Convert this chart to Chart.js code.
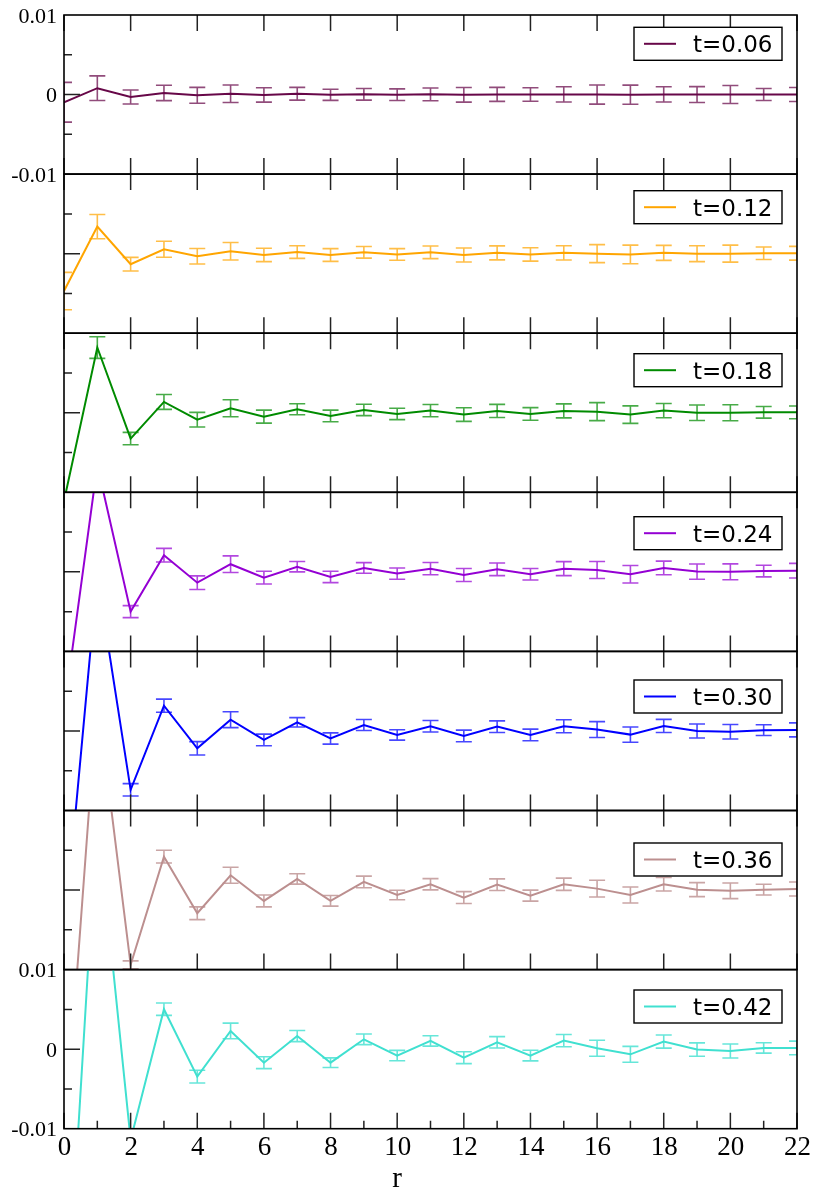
<!DOCTYPE html>
<html><head><meta charset="utf-8">
<script src="https://cdn.jsdelivr.net/npm/chart.js@4.4.0/dist/chart.umd.min.js"></script>
<style>
html,body{margin:0;padding:0;background:#fff;}
#wrap{position:relative;width:814px;height:1191px;overflow:hidden;}
#wrap canvas{position:absolute;left:0;top:0;}
</style></head><body><div id="wrap"></div>
<script>
// ---------- data ----------
const rValues = [0,1,2,3,4,5,6,7,8,9,10,11,12,13,14,15,16,17,18,19,20,21,22];
const xTickValues = [0,2,4,6,8,10,12,14,16,18,20,22];
const xTickLabels = ['0','2','4','6','8','10','12','14','16','18','20','22'];
const yTickValues = [0.01, 0, -0.01];
const yTickLabels = ['0.01','0','-0.01'];
const xTitle = 'r';
const tLabels = ['t=0.06','t=0.12','t=0.18','t=0.24','t=0.30','t=0.36','t=0.42'];

const y006 = [-0.00097,0.0008,-0.0003,0.0002,-0.0001,0.0001,-0.00005,0.0001,-0.00003,0.00003,-0.00002,0.00003,-0.00003,0.00002,0,0.00002,0,-0.00002,0.00002,0,0,0.00001,0.00001];
const e006 = [0.0025,0.00155,0.00088,0.00096,0.001,0.0011,0.0009,0.0008,0.0007,0.00073,0.00073,0.0008,0.00092,0.00088,0.00085,0.00096,0.0012,0.0012,0.00096,0.001,0.00113,0.00075,0.00088];

const y012 = [-0.0047,0.0034,-0.00133,0.00055,-0.00033,0.0003,-0.00016,0.0002,-0.00017,0.00017,-0.0001,0.00017,-0.00017,0.0001,-0.0001,0.0001,0,-0.0001,0.0001,0,0,0.00005,0.00005];
const e012 = [0.00235,0.00153,0.00086,0.001,0.00098,0.0011,0.00084,0.0008,0.0008,0.00073,0.00073,0.0008,0.00088,0.00088,0.00084,0.0009,0.00113,0.00117,0.00094,0.001,0.00107,0.00078,0.00086];

const y018 = [-0.0111,0.0082,-0.00325,0.00136,-0.00087,0.00056,-0.00049,0.00044,-0.0004,0.00035,-0.00015,0.00027,-0.00023,0.00023,-0.00015,0.00023,0.00014,-0.00023,0.00027,0,0,0.00005,0.00005];
const e018 = [0.0008,0.00136,0.00078,0.00094,0.00092,0.00107,0.00082,0.00069,0.00073,0.00071,0.00071,0.00077,0.00086,0.00082,0.0008,0.00088,0.00113,0.0011,0.0009,0.00098,0.001,0.00073,0.0008];

const y024 = [-0.0175,0.0134,-0.005,0.00209,-0.00136,0.00096,-0.00073,0.00065,-0.00064,0.00049,-0.00022,0.0004,-0.00039,0.00032,-0.0003,0.0004,0.00024,-0.0003,0.00049,0.00003,0,0.0001,0.00015];
const e024 = [0.001,0.0015,0.00075,0.00086,0.00086,0.00105,0.0008,0.00065,0.00071,0.00067,0.00071,0.00077,0.00082,0.0008,0.00073,0.00088,0.00107,0.0011,0.00086,0.00096,0.001,0.00073,0.00092];

const y030 = [-0.026,0.0195,-0.0074,0.00318,-0.00218,0.00142,-0.00113,0.00109,-0.00095,0.00075,-0.0005,0.00059,-0.00063,0.00054,-0.0005,0.00059,0.00017,-0.00046,0.00063,0,-0.0001,0.0001,0.00013];
const e030 = [0.001,0.0015,0.00078,0.00082,0.00084,0.001,0.00073,0.00059,0.00071,0.00069,0.00065,0.00073,0.00073,0.00073,0.00073,0.00082,0.001,0.00096,0.00082,0.00088,0.00092,0.00067,0.00088];

const y036 = [-0.0327,0.0243,-0.0094,0.0042,-0.00292,0.00186,-0.00137,0.0014,-0.00135,0.00102,-0.00062,0.00073,-0.00095,0.00068,-0.0007,0.00073,0.00018,-0.00062,0.00073,0.00005,-0.0001,0.00005,0.00014];
const e036 = [0.001,0.0015,0.0005,0.0008,0.0008,0.001,0.00075,0.00065,0.00067,0.00073,0.0006,0.00071,0.00075,0.00073,0.00069,0.00077,0.00105,0.001,0.00084,0.00088,0.00098,0.00067,0.00088];

const y042 = [-0.0398,0.0295,-0.0114,0.00502,-0.00346,0.00229,-0.0017,0.00165,-0.0017,0.00124,-0.00081,0.00103,-0.00107,0.00086,-0.00081,0.00107,0.00011,-0.00065,0.00095,-0.00005,-0.00023,0.00015,0.00015];
const e042 = [0.001,0.0015,0.0006,0.00078,0.0008,0.00098,0.00075,0.0007,0.0006,0.00067,0.00065,0.00065,0.00075,0.00071,0.00067,0.00077,0.001,0.001,0.00082,0.00084,0.00088,0.00065,0.00086];

const seriesValues = [y006,y012,y018,y024,y030,y036,y042];
const seriesErrors = [e006,e012,e018,e024,e030,e036,e042];

// ---------- styles / layout ----------
const colors = ['rgb(103,7,72)','rgb(255,165,0)','rgb(0,139,0)','rgb(148,0,211)','rgb(0,0,255)','rgb(188,143,143)','rgb(64,224,208)'];
const errColors = ['rgba(103,7,72,0.72)','rgba(255,165,0,0.72)','rgba(0,139,0,0.72)','rgba(148,0,211,0.72)','rgba(0,0,255,0.72)','rgba(188,143,143,0.8)','rgba(64,224,208,0.8)'];
const legendOffsets = [12.3,16.6,20.5,24.4,28.6,32.5,20.4];
const W = 814, H = 1191;
const PLOT_LEFT = 64, PLOT_RIGHT = 797, PANEL_TOP = 15, PANEL_H = 159.1;
const NP = seriesValues.length;

function makePlugin(k){
  return {
    id: 'panel'+k,
    beforeDatasetsDraw(chart){
      const ctx = chart.ctx, a = chart.chartArea;
      const xs = chart.scales.x, ys = chart.scales.y;
      const vals = seriesValues[k], errs = seriesErrors[k];
      ctx.save();
      ctx.beginPath(); ctx.rect(a.left, a.top, a.right-a.left, a.bottom-a.top); ctx.clip();
      ctx.strokeStyle = errColors[k]; ctx.lineWidth = 1.6;
      for (let i=0;i<rValues.length;i++){
        const x = xs.getPixelForValue(rValues[i]);
        const y1 = ys.getPixelForValue(vals[i]+errs[i]);
        const y2 = ys.getPixelForValue(vals[i]-errs[i]);
        ctx.beginPath();
        ctx.moveTo(x,y1); ctx.lineTo(x,y2);
        ctx.moveTo(x-8,y1); ctx.lineTo(x+8,y1);
        ctx.moveTo(x-8,y2); ctx.lineTo(x+8,y2);
        ctx.stroke();
      }
      ctx.restore();
    },
    afterDatasetsDraw(chart){
      const ctx = chart.ctx, a = chart.chartArea;
      const xs = chart.scales.x, ys = chart.scales.y;
      ctx.save();
      // ticks
      ctx.strokeStyle = '#222'; ctx.lineWidth = 1.5;
      ctx.beginPath();
      xTickValues.forEach(v=>{
        const x = xs.getPixelForValue(v);
        if (k < NP-1){ ctx.moveTo(x,a.top); ctx.lineTo(x,a.top+16); }
        ctx.moveTo(x,a.bottom); ctx.lineTo(x,a.bottom-16);
      });
      if (k === NP-1){
        for (let v=1; v<22; v+=2){
          const x = xs.getPixelForValue(v);
          ctx.moveTo(x,a.bottom); ctx.lineTo(x,a.bottom-8);
        }
      }
      [0.005,-0.005].forEach(v=>{
        const y = ys.getPixelForValue(v);
        ctx.moveTo(a.left,y); ctx.lineTo(a.left+8,y);
      });
      const y0 = ys.getPixelForValue(0);
      ctx.moveTo(a.left,y0); ctx.lineTo(a.left+16,y0);
      ctx.stroke();
      // frame
      ctx.strokeStyle = '#000'; ctx.lineWidth = 1.6;
      ctx.strokeRect(a.left, a.top, a.right-a.left, a.bottom-a.top);
      // y tick labels
      ctx.fillStyle = '#000';
      if (k === 0 || k === NP-1){
        ctx.font = '22px "Liberation Serif", serif';
        ctx.textAlign = 'right'; ctx.textBaseline = 'alphabetic';
        yTickValues.forEach((v,j)=>{
          const y = ys.getPixelForValue(v);
          ctx.fillText(yTickLabels[j], 57, y+7.5);
        });
      }
      if (k === NP-1){
        ctx.font = '27px "Liberation Serif", serif';
        ctx.textAlign = 'center'; ctx.textBaseline = 'alphabetic';
        xTickValues.forEach((v,j)=>{
          ctx.fillText(xTickLabels[j], xs.getPixelForValue(v)+0.5, a.bottom+26.5);
        });
        ctx.font = '29px "Liberation Serif", serif';
        ctx.fillText(xTitle, xs.getPixelForValue(10), a.bottom+58);
      }
      // legend
      const bx = 634, bw = 148, bh = 33, by = a.top + legendOffsets[k];
      ctx.fillStyle = '#fff';
      ctx.fillRect(bx, by, bw, bh);
      ctx.strokeStyle = '#000'; ctx.lineWidth = 1.4;
      ctx.strokeRect(bx, by, bw, bh);
      ctx.strokeStyle = colors[k]; ctx.lineWidth = 2;
      ctx.beginPath(); ctx.moveTo(644, by+bh/2); ctx.lineTo(676, by+bh/2); ctx.stroke();
      ctx.fillStyle = '#000';
      ctx.font = '23px "DejaVu Sans", sans-serif';
      ctx.textAlign = 'left'; ctx.textBaseline = 'alphabetic';
      ctx.fillText(tLabels[k], 693, by+bh/2+8.4);
      ctx.restore();
    }
  };
}

const wrap = document.getElementById('wrap');
for (let k=0;k<NP;k++){
  const c = document.createElement('canvas');
  c.width = W; c.height = H;
  c.style.width = W+'px'; c.style.height = H+'px';
  wrap.appendChild(c);
  const top = PANEL_TOP + k*PANEL_H;
  const bottom = top + PANEL_H;
  new Chart(c.getContext('2d'), {
    type: 'line',
    data: {
      datasets: [{
        label: tLabels[k],
        data: rValues.map((r,i)=>({x:r, y:seriesValues[k][i]})),
        borderColor: colors[k],
        borderWidth: 2,
        pointRadius: 0,
        tension: 0,
        fill: false,
        clip: 0
      }]
    },
    options: {
      responsive: false,
      animation: false,
      devicePixelRatio: 1,
      layout: { padding: { left: PLOT_LEFT, right: W-PLOT_RIGHT, top: top, bottom: H-bottom } },
      scales: {
        x: { type: 'linear', min: 0, max: 22, display: false },
        y: { type: 'linear', min: -0.01, max: 0.01, display: false }
      },
      plugins: { legend: { display: false }, tooltip: { enabled: false } }
    },
    plugins: [makePlugin(k)]
  });
}
</script>
</body></html>
